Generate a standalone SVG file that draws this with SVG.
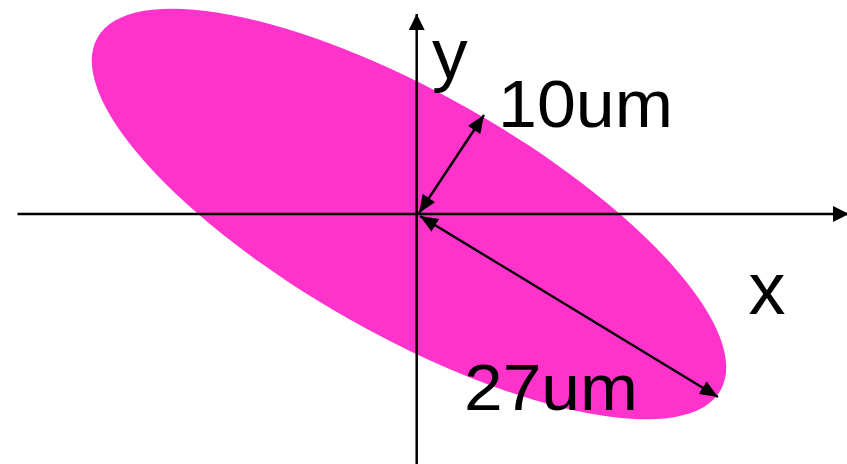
<svg xmlns="http://www.w3.org/2000/svg" width="847" height="464" viewBox="0 0 847 464">
  <style>
    .lbl { font-family: "Liberation Sans", Arial, sans-serif; fill: #000; }
    .axis { stroke: #000; stroke-width: 2.5; fill: none; }
    .dim { stroke: #000; stroke-width: 2.4; fill: none; }
  </style>
  <defs>
    <marker id="axhead" markerUnits="userSpaceOnUse" markerWidth="17" markerHeight="17" refX="16" refY="8" orient="auto" viewBox="0 0 17 17">
      <path d="M0,0 L16,8 L0,16 Z" fill="#000"/>
    </marker>
    <marker id="dimhead" markerUnits="userSpaceOnUse" markerWidth="19" markerHeight="16" refX="18" refY="7.5" orient="auto-start-reverse" viewBox="0 0 19 16">
      <path d="M0,0 L18,7.5 L0,15 Z" fill="#000"/>
    </marker>
  </defs>
  <rect width="847" height="464" fill="#fff"/>
  <g id="ellipse">
    <ellipse cx="409" cy="214" rx="358" ry="121" transform="rotate(29.5 409 214)" fill="#FF33CC"/>
  </g>
  <g id="connectors">
    <line class="axis" x1="17.5" y1="214" x2="849" y2="214" marker-end="url(#axhead)"/>
    <line class="axis" x1="416.7" y1="464" x2="416.7" y2="14" marker-end="url(#axhead)"/>
    <line class="dim" x1="419" y1="213" x2="484" y2="115" marker-start="url(#dimhead)" marker-end="url(#dimhead)"/>
    <line class="dim" x1="420" y1="216" x2="718" y2="397" marker-start="url(#dimhead)" marker-end="url(#dimhead)"/>
  </g>
  <g id="label-y"><text class="lbl" font-size="70" transform="translate(432 78) scale(1.02 1)">y</text></g>
  <g id="label-x"><text class="lbl" font-size="74" transform="translate(748.6 314.3)">x</text></g>
  <g id="label-10um"><text class="lbl" font-size="66" transform="translate(498 126.7) scale(1.06 1)">10um</text></g>
  <g id="label-27um"><text class="lbl" font-size="65" transform="translate(464 410) scale(1.07 1)">27um</text></g>
</svg>
